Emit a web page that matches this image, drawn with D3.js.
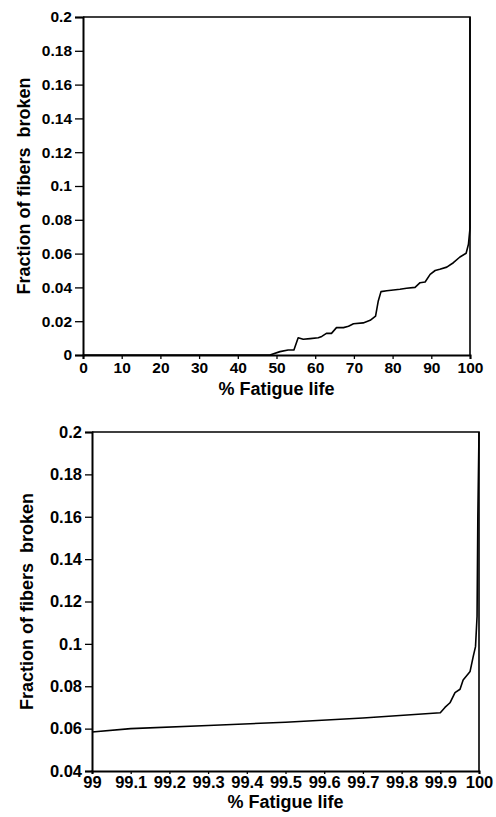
<!DOCTYPE html>
<html>
<head>
<meta charset="utf-8">
<script src="https://cdn.jsdelivr.net/npm/d3@7"></script>
<style>
  body { margin: 0; background: #fff; }
  svg { display: block; }
  .tick text { font-family: "Liberation Sans", Arial, sans-serif; font-weight: bold; fill: #000; }
  .lbl { font-family: "Liberation Sans", Arial, sans-serif; font-weight: bold; font-size: 18px; fill: #000; }
</style>
</head>
<body>
<div id="chart"></div>
<script>
// Top panel: whole fatigue life
const topLife = [0, 48.3, 50.9, 53, 54.5, 55.6, 56.9, 58.7, 60.8, 61.7, 62.9, 64.2, 65.5, 67.3, 68.6, 69.9, 72.4, 74.2, 75.6, 76.3, 77.0, 78.5, 81.9, 83.6, 85.8, 87.1, 88.4, 89.7, 91.0, 92.2, 94.0, 95.7, 97.4, 99.0, 99.6, 100, 100];
const topFrac = [0, 0, 0.002, 0.003, 0.003, 0.0102, 0.0093, 0.0097, 0.0102, 0.011, 0.0128, 0.0128, 0.0162, 0.0162, 0.017, 0.0185, 0.019, 0.0205, 0.023, 0.032, 0.0375, 0.038, 0.0389, 0.0395, 0.040, 0.0428, 0.0432, 0.0477, 0.050, 0.0507, 0.052, 0.0546, 0.058, 0.0602, 0.0655, 0.075, 0.2];
const topXTicks = [0, 10, 20, 30, 40, 50, 60, 70, 80, 90, 100];
const topYTicks = [0, 0.02, 0.04, 0.06, 0.08, 0.1, 0.12, 0.14, 0.16, 0.18, 0.2];

// Bottom panel: last 1 % of life
const botLife = [99, 99.1, 99.3, 99.5, 99.7, 99.9, 99.912, 99.925, 99.938, 99.951, 99.959, 99.977, 99.985, 99.991, 99.995, 99.997, 100];
const botFrac = [0.0584, 0.0600, 0.0615, 0.0630, 0.0650, 0.0675, 0.070, 0.0722, 0.077, 0.0786, 0.083, 0.087, 0.094, 0.0987, 0.113, 0.16, 0.2];
const botXTicks = [99, 99.1, 99.2, 99.3, 99.4, 99.5, 99.6, 99.7, 99.8, 99.9, 100];
const botYTicks = [0.04, 0.06, 0.08, 0.1, 0.12, 0.14, 0.16, 0.18, 0.2];

const width = 496, height = 817;
const svg = d3.select('#chart').append('svg')
    .attr('width', width).attr('height', height);

function drawPanel(cfg) {
    const x = d3.scaleLinear().domain(cfg.xDomain).range([cfg.left, cfg.right]);
    const y = d3.scaleLinear().domain(cfg.yDomain).range([cfg.bottom, cfg.top]);
    const g = svg.append('g');

    // Frame (top and right sides)
    g.append('path')
        .attr('d', `M${cfg.left},${cfg.top}H${cfg.right}V${cfg.bottom}`)
        .attr('fill', 'none').attr('stroke', '#000').attr('stroke-width', 1.6);

    // Axes
    const xAxis = g.append('g')
        .attr('transform', `translate(0,${cfg.bottom})`)
        .call(d3.axisBottom(x).tickValues(cfg.xTicks).tickSize(cfg.xTickSize).tickPadding(cfg.xTickPad)
            .tickFormat(d => d3.format(cfg.xFmt)(d)));
    const yAxis = g.append('g')
        .attr('transform', `translate(${cfg.left},0)`)
        .call(d3.axisLeft(y).tickValues(cfg.yTicks).tickSize(cfg.yTickSize).tickPadding(3)
            .tickFormat(d => d3.format(cfg.yFmt)(d)));
    [xAxis, yAxis].forEach(a => {
        a.select('.domain').attr('stroke-width', 2);
        a.selectAll('.tick line').attr('stroke-width', 1.3);
        a.selectAll('.tick text').style('font-size', cfg.tickFont + 'px');
    });

    // Curve
    const pts = cfg.xs.map((v, i) => [v, cfg.ys[i]]);
    g.append('path')
        .datum(pts)
        .attr('fill', 'none')
        .attr('stroke', '#000')
        .attr('stroke-width', 1.6)
        .attr('stroke-linejoin', 'round')
        .attr('d', d3.line().x(d => x(d[0])).y(d => y(d[1])));

    // Labels
    g.append('text').attr('class', 'lbl')
        .attr('x', (cfg.left + cfg.right) / 2).attr('y', cfg.bottom + cfg.xLabelDy)
        .attr('text-anchor', 'middle')
        .text('% Fatigue life');
    g.append('text').attr('class', 'lbl')
        .attr('transform', `translate(${cfg.yLabelX},${(cfg.top + cfg.bottom) / 2}) rotate(-90)`)
        .attr('text-anchor', 'middle')
        .text('Fraction of fibers\u00a0 broken');
}

drawPanel({
    xDomain: [0, 100], yDomain: [0, 0.2],
    left: 83, right: 470, top: 17, bottom: 355,
    xTicks: topXTicks, yTicks: topYTicks,
    xFmt: 'd', yFmt: '~g',
    xTickSize: 4, xTickPad: 2.5, yTickSize: 8, tickFont: 15.5,
    xs: topLife, ys: topFrac,
    xLabelDy: 40, yLabelX: 30
});

drawPanel({
    xDomain: [99, 100], yDomain: [0.04, 0.2],
    left: 92, right: 479, top: 432, bottom: 771,
    xTicks: botXTicks, yTicks: botYTicks,
    xFmt: '~g', yFmt: '~g',
    xTickSize: 3, xTickPad: 2.5, yTickSize: 7, tickFont: 16.5,
    xs: botLife, ys: botFrac,
    xLabelDy: 37, yLabelX: 33
});
</script>
</body>
</html>
